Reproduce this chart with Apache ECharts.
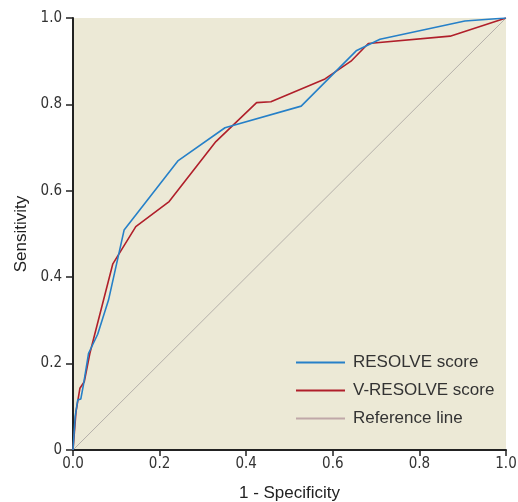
<!DOCTYPE html>
<html><head><meta charset="utf-8">
<script src="https://cdn.jsdelivr.net/npm/echarts@6/dist/echarts.min.js"></script>
<style>html,body{margin:0;padding:0;background:#fff}#c{width:518px;height:502px}</style>
</head><body><div id="c"></div>
<script>
const resolveX = [0, 0.005, 0.011, 0.018, 0.024, 0.036, 0.057, 0.082, 0.118, 0.243, 0.351, 0.527, 0.654, 0.709, 0.905, 1.0];
const resolveY = [0, 0.077, 0.116, 0.118, 0.150, 0.224, 0.268, 0.347, 0.509, 0.670, 0.746, 0.796, 0.924, 0.951, 0.993, 1.0];
const vresolveX = [0, 0.007, 0.016, 0.026, 0.039, 0.092, 0.145, 0.222, 0.330, 0.424, 0.457, 0.582, 0.642, 0.682, 0.871, 1.0];
const vresolveY = [0, 0.089, 0.143, 0.158, 0.224, 0.431, 0.517, 0.575, 0.714, 0.804, 0.806, 0.859, 0.900, 0.941, 0.958, 1.0];
const refX = [0, 1];
const refY = [0, 1];
const xTicks = ['0.0', '0.2', '0.4', '0.6', '0.8', '1.0'];
const yTicks = ['0', '0.2', '0.4', '0.6', '0.8', '1.0'];
const seriesNames = ['RESOLVE score', 'V-RESOLVE score', 'Reference line'];

const zip = (a, b) => a.map((v, i) => [v, b[i]]);
const font = '"DejaVu Sans Condensed", "Liberation Sans Narrow", sans-serif';
const chart = echarts.init(document.getElementById('c'));
chart.setOption({
  animation: false,
  grid: { left: 73, right: 12, top: 18, bottom: 52, show: true, backgroundColor: '#ece9d6', borderWidth: 0,
    containLabel: false, outerBoundsMode: 'none' },
  xAxis: {
    type: 'value', min: 0, max: 1, interval: 0.2,
    name: '1 - Specificity', nameLocation: 'middle', nameGap: 35,
    nameTextStyle: { fontFamily: 'Liberation Sans, sans-serif', fontSize: 17, color: '#222' },
    axisLine: { lineStyle: { color: '#222', width: 2 } },
    axisTick: { length: 6, lineStyle: { color: '#222', width: 1.5 } },
    axisLabel: { fontFamily: font, fontSize: 15, color: '#333', margin: 7,
      formatter: v => xTicks[Math.round(v / 0.2)] },
    splitLine: { show: false }
  },
  yAxis: {
    type: 'value', min: 0, max: 1, interval: 0.2,
    name: 'Sensitivity', nameLocation: 'middle', nameGap: 41, nameRotate: 90,
    nameTextStyle: { fontFamily: 'Liberation Sans, sans-serif', fontSize: 17, color: '#222' },
    axisLine: { show: true, lineStyle: { color: '#222', width: 2 } },
    axisTick: { show: true, length: 7, lineStyle: { color: '#222', width: 1.5 } },
    axisLabel: { fontFamily: font, fontSize: 15, color: '#333', margin: 11,
      formatter: v => yTicks[Math.round(v / 0.2)] },
    splitLine: { show: false }
  },
  legend: {
    orient: 'vertical', left: 291, top: 349, itemWidth: 49, itemHeight: 2, itemGap: 11,
    icon: 'path://M0,0H49V2H0Z',
    textStyle: { fontFamily: 'Liberation Sans, sans-serif', fontSize: 17, color: '#333', padding: [0, 0, 0, 3] },
    data: seriesNames
  },
  series: [
    { name: seriesNames[0], type: 'line', symbol: 'none', data: zip(resolveX, resolveY),
      lineStyle: { color: '#2680c8', width: 1.6 }, itemStyle: { color: '#2680c8' }, z: 3 },
    { name: seriesNames[1], type: 'line', symbol: 'none', data: zip(vresolveX, vresolveY),
      lineStyle: { color: '#b01f2a', width: 1.6 }, itemStyle: { color: '#b01f2a' }, z: 2 },
    { name: seriesNames[2], type: 'line', symbol: 'none', data: zip(refX, refY),
      lineStyle: { color: '#b5b0aa', width: 1 }, itemStyle: { color: '#bfa8a8' }, z: 1 }
  ]
});
</script></body></html>
